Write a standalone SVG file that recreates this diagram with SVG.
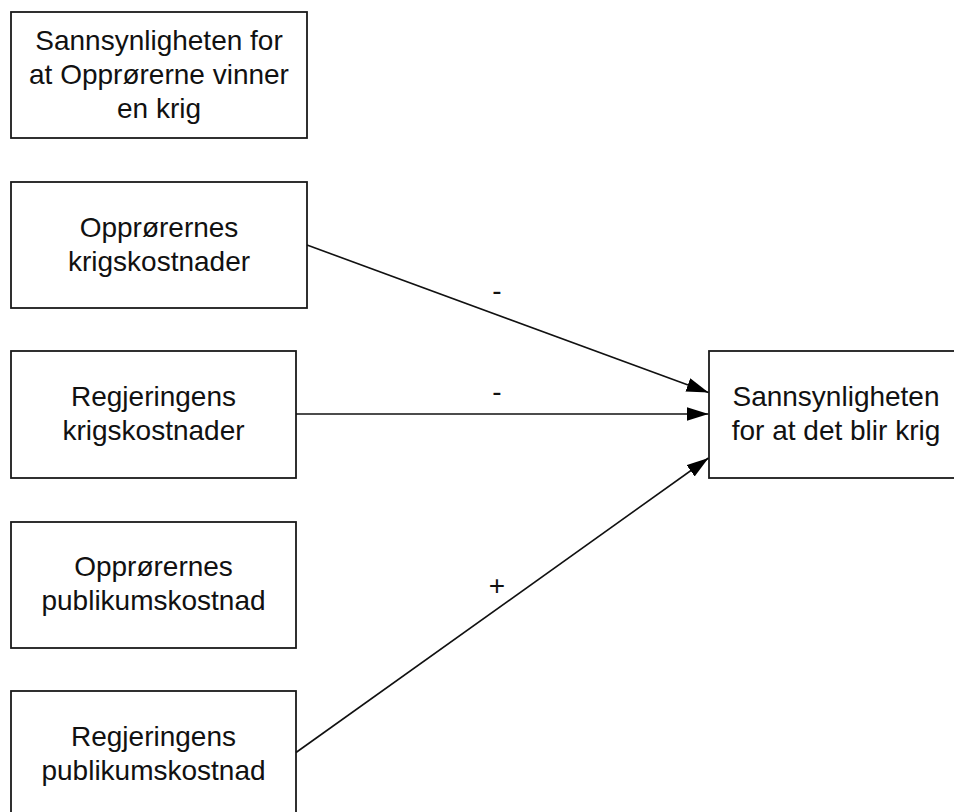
<svg xmlns="http://www.w3.org/2000/svg" width="954" height="812" viewBox="0 0 954 812">
  <style>
    .box { fill: #ffffff; stroke: #1a1a1a; stroke-width: 1.8; }
    .lbl { font-family: "Liberation Sans", Arial, sans-serif; font-size: 28px; fill: #111111; text-anchor: middle; }
    .edge { fill: none; stroke: #111111; stroke-width: 1.6; marker-end: url(#arrow); }
  </style>
  <defs>
    <marker id="arrow" markerUnits="userSpaceOnUse" markerWidth="23" markerHeight="15" refX="22" refY="7" orient="auto">
      <path d="M0,0 L22,7 L0,14 z" fill="#000000"/>
    </marker>
  </defs>
  <rect width="954" height="812" fill="#ffffff"/>

  <g id="node-seier">
    <rect class="box" x="11" y="12" width="296" height="126"/>
    <text class="lbl" x="159" y="50">Sannsynligheten for</text>
    <text class="lbl" x="159" y="84">at Opprørerne vinner</text>
    <text class="lbl" x="159" y="118">en krig</text>
  </g>

  <g id="node-opprorere-krig">
    <rect class="box" x="11" y="182" width="296" height="126"/>
    <text class="lbl" x="159" y="237">Opprørernes</text>
    <text class="lbl" x="159" y="271">krigskostnader</text>
  </g>

  <g id="node-regjering-krig">
    <rect class="box" x="11" y="351" width="285" height="127"/>
    <text class="lbl" x="153.5" y="406">Regjeringens</text>
    <text class="lbl" x="153.5" y="440">krigskostnader</text>
  </g>

  <g id="node-opprorere-publikum">
    <rect class="box" x="11" y="522" width="285" height="126"/>
    <text class="lbl" x="153.5" y="576">Opprørernes</text>
    <text class="lbl" x="153.5" y="610">publikumskostnad</text>
  </g>

  <g id="node-regjering-publikum">
    <rect class="box" x="11" y="691" width="285" height="130"/>
    <text class="lbl" x="153.5" y="746">Regjeringens</text>
    <text class="lbl" x="153.5" y="780">publikumskostnad</text>
  </g>

  <g id="node-krig">
    <rect class="box" x="709" y="351" width="258" height="127"/>
    <text class="lbl" x="836" y="406">Sannsynligheten</text>
    <text class="lbl" x="836" y="440">for at det blir krig</text>
  </g>

  <g id="connectors">
    <line class="edge" x1="307" y1="245" x2="708.5" y2="392.5"/>
    <line class="edge" x1="296" y1="414" x2="708.5" y2="414"/>
    <line class="edge" x1="296" y1="752.5" x2="708.5" y2="458"/>
    <text class="lbl" x="497" y="300">-</text>
    <text class="lbl" x="497" y="401">-</text>
    <text class="lbl" x="497" y="595">+</text>
  </g>
</svg>
